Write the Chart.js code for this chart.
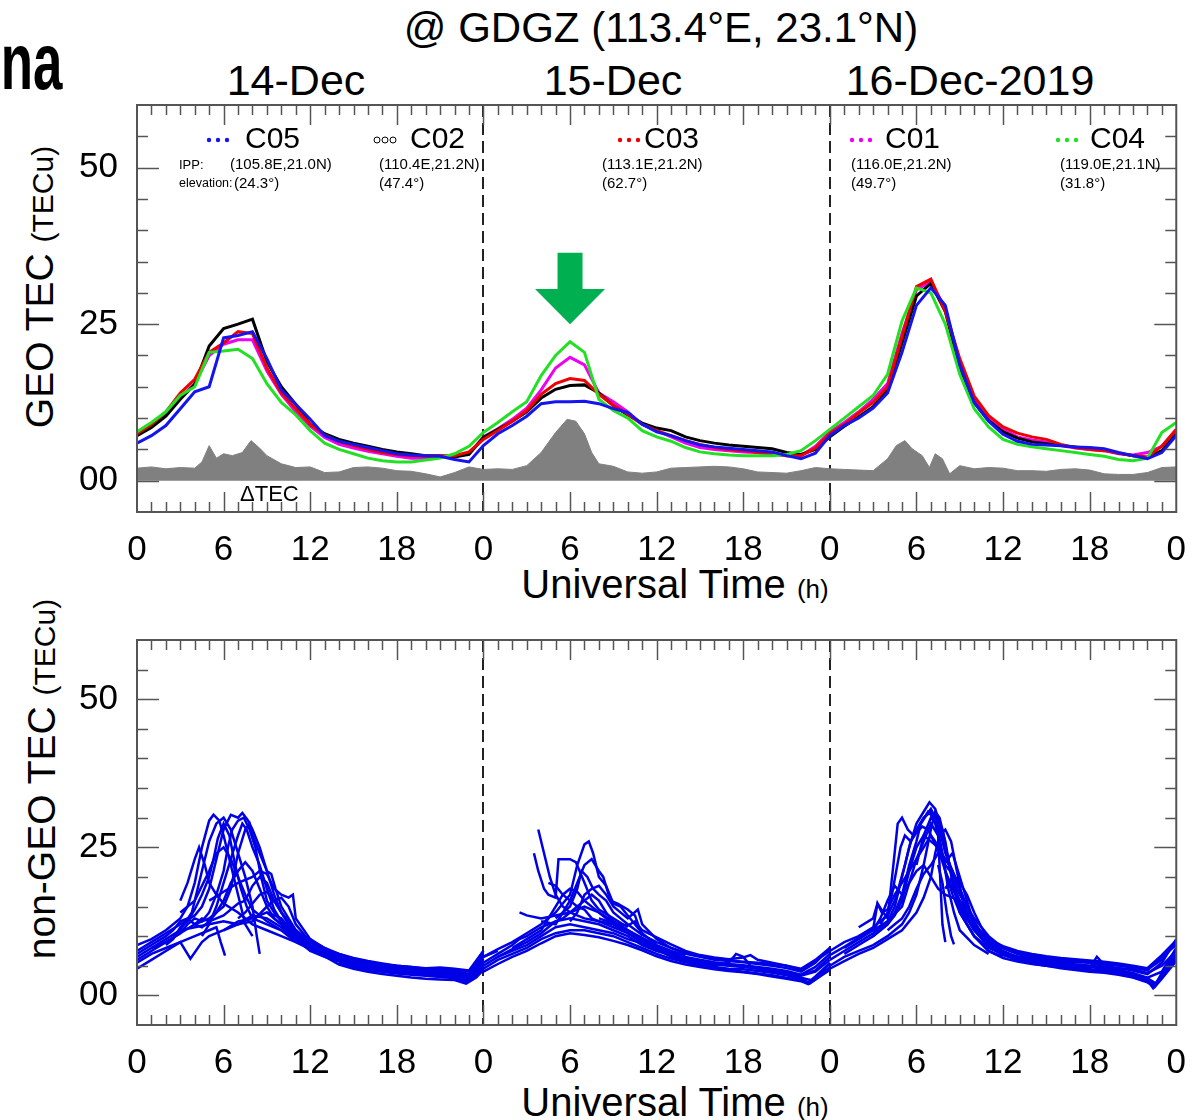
<!DOCTYPE html>
<html>
<head>
<meta charset="utf-8">
<script src="https://cdn.jsdelivr.net/npm/chart.js@4.4.1/dist/chart.umd.min.js"></script>
<style>
  html, body { margin: 0; padding: 0; background: #fff; }
  body { width: 1203px; height: 1120px; position: relative; overflow: hidden;
         font-family: "Liberation Sans", Arial, sans-serif; color: #000; }
  canvas { position: absolute; left: 0; }
  .t { position: absolute; white-space: nowrap; line-height: 1; }
  .c { transform: translateX(-50%); }
  .rot { transform: translate(-50%, -50%) rotate(-90deg); }
</style>
</head>
<body>
<div class="t" style="right:1141px;top:22px;font-weight:bold;font-size:80px;transform:scaleX(0.66);transform-origin:right center">na</div>
<div class="t c" style="left:661px;top:7px;font-size:42px">@ GDGZ (113.4°E, 23.1°N)</div>
<div class="t c" style="left:296px;top:59px;font-size:43px">14-Dec</div>
<div class="t c" style="left:613px;top:59px;font-size:43px">15-Dec</div>
<div class="t c" style="left:970px;top:59px;font-size:43px">16-Dec-2019</div>
<div class="t rot" style="left:39px;top:287px;font-size:39px">GEO TEC <span style="font-size:30px">(TECu)</span></div>
<div class="t rot" style="left:41px;top:779px;font-size:39px">non-GEO TEC <span style="font-size:30px">(TECu)</span></div>
<div class="t c" style="left:675px;top:564px;font-size:40px">Universal Time <span style="font-size:26px">(h)</span></div>
<div class="t c" style="left:675px;top:1082px;font-size:40px">Universal Time <span style="font-size:26px">(h)</span></div>

<canvas id="geo" width="1203" height="600" style="top:0"></canvas>
<canvas id="nongeo" width="1203" height="520" style="top:600px"></canvas>

<script>
// ─── DATA ─────────────────────────────────────────────────────────────────────
// hours since 00 UT on 14 Dec, one GEO sample per hour
const hours = Array.from({length: 73}, (_, i) => i);
const hourLabels = [0, 6, 12, 18, 24, 30, 36, 42, 48, 54, 60, 66, 72];
const tecLabels = [0, 25, 50];
const dayBreaks = [24, 48];

const geoSats  = ['C05', 'C02', 'C03', 'C01', 'C04'];
const geoIpp   = ['(105.8E,21.0N)', '(110.4E,21.2N)', '(113.1E,21.2N)', '(116.0E,21.2N)', '(119.0E,21.1N)'];
const geoElev  = ['(24.3°)', '(47.4°)', '(62.7°)', '(49.7°)', '(31.8°)'];

const tecC05 = [6.0,7.2,8.8,11.5,14.2,15.0,22.8,23.2,23.8,19.5, 14.5,12.2,9.8,7.2,6.3,5.8,5.3,4.8,4.3,4.1,
  4.0,3.9,3.4,3.0,5.6,7.5,8.8,10.3,12.3,12.6, 12.6,12.7,12.3,11.5,10.9,9.0,7.8,7.2,6.4,5.7,
  5.4,5.2,5.0,4.8,4.6,4.0,3.5,4.4,7.2,8.8, 10.0,11.6,14.0,20.5,28.0,30.8,28.0,18.5,12.5,9.5,
  7.4,6.3,5.8,5.7,5.6,5.4,5.3,5.1,4.5,4.0, 3.5,4.5,7.2];
const tecC02 = [7.2,8.5,10.3,13.0,15.4,21.5,24.3,25.0,25.8,19.0, 15.0,12.2,9.0,7.5,6.6,6.0,5.5,5.0,4.6,4.3,
  4.0,4.0,3.8,4.2,6.9,8.2,9.5,11.0,13.2,14.6, 15.2,15.3,14.0,12.0,10.5,9.2,8.4,8.0,7.0,6.4,
  6.0,5.7,5.5,5.3,5.1,4.5,4.2,5.0,7.0,8.7, 10.2,11.8,14.5,22.0,29.5,31.5,27.0,18.0,12.5,9.6,
  7.8,6.8,6.2,5.9,5.6,5.4,5.2,5.0,4.4,4.0, 3.7,4.8,7.4];
const tecC03 = [7.5,9.0,11.0,14.0,16.2,20.5,22.0,23.8,23.5,18.0, 14.0,11.5,9.0,7.3,6.2,5.6,5.0,4.5,4.2,4.0,
  3.9,4.0,4.0,4.6,6.6,8.0,9.5,11.2,13.8,15.5, 16.3,16.0,13.8,12.0,10.6,9.0,8.0,7.2,6.4,5.8,
  5.3,5.0,4.8,4.5,4.3,4.0,4.0,5.2,7.6,9.0, 10.8,12.5,15.0,23.0,31.0,32.2,27.0,19.5,13.5,10.4,
  8.6,7.6,7.0,6.6,5.8,5.3,5.0,4.8,4.4,4.0, 3.8,5.5,8.2];
const tecC01 = [7.3,8.8,10.5,13.3,15.5,20.0,21.8,22.5,22.5,17.5, 13.8,11.0,8.7,6.9,5.8,5.2,4.7,4.3,3.9,3.6,
  3.6,3.8,3.9,4.3,7.0,8.3,9.8,11.6,14.5,18.0, 19.7,18.5,14.0,12.6,11.0,9.0,8.0,7.0,6.0,5.3,
  5.0,4.8,4.6,4.5,4.3,4.0,4.0,5.5,7.8,9.3, 11.0,13.0,15.5,23.5,30.5,31.8,27.5,19.0,13.0,10.0,
  8.2,7.0,6.5,6.2,5.6,5.2,5.0,4.8,4.3,4.1, 4.5,5.5,8.0];
const tecC04 = [7.8,9.3,11.0,13.6,15.0,20.5,20.7,21.0,19.5,15.5, 12.5,10.5,8.0,6.0,5.0,4.3,3.6,3.2,3.0,3.0,
  3.3,3.6,4.3,5.5,7.7,9.3,11.0,12.6,16.8,20.0, 22.2,20.5,13.0,11.2,10.0,8.0,7.0,6.3,5.3,4.6,
  4.3,4.1,4.0,4.0,4.0,4.2,4.8,6.4,8.2,10.0, 11.8,13.6,17.0,25.5,30.8,30.0,25.0,17.0,11.5,8.6,
  6.6,5.8,5.4,5.1,4.8,4.5,4.2,3.9,3.4,3.2, 3.6,7.7,9.3];

// ΔTEC spread between the GEO links, [hour, TECu]
const deltaTec = [[0,2.0],[1,2.2],[2,1.9],[3,2.1],[4,2.0],[4.5,3.0],[5,5.6],[5.5,3.6],[6,4.3],[6.6,4.0],
  [7.3,4.5],[7.9,6.4],[8.5,5.2],[9,4.0],[10,2.7],[11,2.1],[12,2.2],[13,1.3],[14,1.4],[15,2.1],[16,2.2],
  [17,2.0],[18,1.6],[19,1.5],[20,1.1],[21,0.6],[22,1.3],[23,2.2],[24,1.8],[25,1.9],[26,1.8],[27,2.4],
  [28,4.5],[29,7.7],[29.8,9.8],[30.4,9.5],[31,7.5],[31.5,4.5],[32,2.7],[33,2.3],[34,1.4],[35,1.2],
  [36,1.4],[37,2.0],[38,2.1],[39,2.2],[40,2.3],[41,2.2],[42,1.9],[43,1.4],[44,1.3],[45,1.2],[46,1.6],
  [47,2.1],[48,1.9],[49,1.8],[50,1.7],[51,1.6],[52,3.5],[52.6,5.6],[53.2,6.4],[53.7,5.1],[54.4,4.0],
  [54.9,2.1],[55.3,4.3],[55.8,3.5],[56.3,1.1],[57,2.4],[58,1.9],[59,2.1],[60,2.0],[61,1.6],[62,1.6],
  [63,1.5],[64,1.8],[65,1.9],[66,1.7],[67,1.1],[68,1.0],[69,1.0],[70,1.3],[71,2.1],[72,2.2]];

// non-GEO satellite arcs, [hour, TECu]
const arcsDec14 = [
  [[0,8.5],[1,9.5],[2,11],[3,13],[3.5,15],[4,19],[4.5,25],[5,29.5],[5.3,30.5],[5.7,29.5],[6,27],[6.5,22],[7,17],[7.5,12],[8,10]],
  [[0,7.5],[1,9],[2,10.5],[3,12],[4,13.5],[4.5,15],[5,18],[5.5,23],[6,28],[6.5,30.5],[7,30],[7.3,30.8],[7.7,29.5],[8,28],[8.5,25],[9,21],[9.5,17],[10,14],[11,10.5],[12,8.5],[13,7],[14,6]],
  [[0,6.5],[1,8],[2,9.5],[3,11],[4,11.5],[5,12],[6,12.5],[7,12],[8,13.5],[9,13],[10,11.5],[11,9.5],[12,7.5],[13,6.5],[14,5.7],[15,5],[16,4.5],[17,4.2],[18,3.9],[19,3.7],[20,3.5],[21,3.4],[22,3.2],[22.7,2.2],[23.3,3.2],[24,5.5]],
  [[0,5.5],[1,7],[2,8],[3,9],[3.7,6.2],[4.5,9],[5,10],[6,11],[7,12.5],[8,13],[9,14],[10,13],[11,10],[12,8],[13,7],[14,6.2],[15,5.6],[16,5],[17,4.6],[18,4.4],[19,4.2],[20,4],[21,3.9],[22,3.6],[23,3],[24,6]],
  [[0,4.5],[1,6],[2,7.5],[3,9],[4,10],[5,11],[5.5,11.5],[5.8,9],[6.1,6.7]],
  [[3,16],[3.5,19],[4,23],[4.3,25],[4.7,22],[5,19],[5.5,17],[6,15.5],[7,14],[8,12],[9,11],[10,10],[11,9]],
  [[2.5,10],[3,11],[3.8,14],[4.5,21],[5,26],[5.5,29],[6,30],[6.5,28],[7,24],[7.5,20],[8,15],[8.3,10],[8.5,7]],
  [[4,12],[5,13],[6,15],[6.5,18],[7,24],[7.5,28],[7.8,29],[8,27],[8.5,24],[9,21],[9.3,20.5],[9.6,18],[10,15],[11,11],[12,8.5],[13,7],[14,6],[15,5.3],[16,4.8],[17,4.5],[18,4.2],[19,4],[20,3.8],[21,3.6],[22,3.3],[23,2.8],[24,4.8]],
  [[5,16],[6,17.5],[7,19],[8,20],[8.5,21],[9,20.5],[9.5,18],[10,17],[10.5,16.5],[10.8,17],[11,13],[12,9.5],[13,7.5],[14,6.5]],
  [[6,11],[7,12],[8,12.5],[9,15],[9.5,16],[10,16.5],[10.5,15],[11,12],[12,9],[13,7.5],[14,6.4],[15,5.6],[16,5],[17,4.6],[18,4.3],[19,4],[20,3.7],[21,3.6],[22,3.4],[23,3],[24,6.5],[25,7.5]],
  [[9,14],[10,12],[11,9.5],[12,8],[13,7],[14,6],[15,5.2],[16,4.8],[17,4.6],[18,4.5],[19,4.4],[20,4.3],[21,4.2],[22,4],[23,3.5],[24,7]],
  [[10,12.5],[11,10],[12,8],[13,6.6],[14,5.2],[15,4.5],[16,4],[17,3.6],[18,3.3],[19,3],[20,2.8],[21,2.7],[22,2.6],[22.8,2],[23.5,3],[24,4.3]],
  [[3,14],[4,16],[5,21],[5.5,24],[6,25],[6.5,23],[7,20],[7.5,17],[8,14.5],[9,12.5],[10,11],[11,9.5],[12,8],[13,6.8],[14,6]],
  [[1,8],[2,9],[3,10.5],[4,12],[4.5,13],[5,12.5],[6,13.5],[7,15.5],[7.5,16],[8,18.5],[8.5,20],[9,19],[9.5,16],[10,14],[11,11],[12,9],[13,7.5],[14,6.8],[15,6],[16,5.4],[17,5],[18,4.8],[19,4.6],[20,4.4],[21,4.5],[22,4.4],[23,4],[24,7.5]],
  [[12,9.5],[13,8],[14,7],[15,6.2],[16,5.6],[17,5.2],[18,5],[19,4.8],[20,4.6],[21,4.7],[22,4.5],[23,4.2],[24,7.5]],
  [[0,6],[1,7.5],[2,9],[3,10.5],[3.5,12],[4,13],[4.5,12.5],[5,14],[5.5,17],[6,21],[6.3,25],[6.6,28],[7,29.5],[7.4,30],[7.8,28],[8.2,25],[8.6,20],[9,16],[9.5,14],[10,12.5],[11,10],[12,8.2],[13,7.2],[14,6.3],[15,5.5],[16,5],[17,4.6],[18,4.3],[19,4.1],[20,3.9],[21,3.7],[22,3.5],[23,3.2],[24,5]],
  [[0,7],[1,8.5],[2,10],[2.5,11],[3,12.5],[3.5,13],[4,12],[4.5,11.5],[5,12.5],[5.5,14],[6,16],[6.5,19],[7,21],[7.5,22.5],[8,21],[8.5,18],[9,15],[9.5,13],[10,12],[10.5,11.5],[11,10.5],[12,9],[13,7.8],[14,7],[15,6.3],[16,5.8],[17,5.4],[18,5],[19,4.8],[20,4.5],[21,4.3],[22,4.1],[23,3.6],[24,6.2]],
  [[4.5,10],[5,12],[5.5,15],[6,19],[6.5,23],[7,27],[7.3,29],[7.6,28],[8,25],[8.5,22],[9,18],[9.5,14.5],[10,12.5],[11,10],[12,8.5]],
  [[2,8.5],[2.5,9.5],[3,11.5],[3.5,12.5],[4,14.5],[4.5,17],[5,20],[5.3,23],[5.6,26.5],[6,29],[6.4,27],[6.8,22],[7.2,18],[7.6,15],[8,13],[9,12],[10,11],[11,9],[12,7.8],[13,6.8],[14,6],[15,5.4],[16,4.9],[17,4.5],[18,4.1],[19,3.8],[20,3.6],[21,3.3],[22,3],[22.6,2.3],[23.2,2.8],[24,4.5]],
  [[7,13],[7.5,14],[8,15.5],[8.5,17],[9,17.5],[9.5,16],[10,14],[10.5,12],[11,11],[11.5,10],[12,9.3],[13,8],[14,6.8],[15,6],[16,5.5],[17,5],[18,4.7],[19,4.5],[20,4.2],[21,4],[22,3.8],[23,3.3],[24,5.8]],
  [[14,5.5],[15,4.8],[16,4.3],[17,4],[18,3.7],[19,3.5],[20,3.3],[21,3.1],[22,2.9],[23,2.5],[23.6,3.5],[24,5]]
];
const arcsDec15 = [
  [[24,4.5],[25,6],[26,7],[27,8],[28,9.5],[29,10.5],[30,11],[31,11],[32,10.5],[33,10],[34,9],[35,8],[36,7],[37,6.2],[38,5.6],[39,5],[40,4.6],[41,4.3],[42,4],[43,3.7],[44,3.4],[45,3],[46,2.6],[46.6,2],[47.2,3],[48,4.8]],
  [[24,5.5],[25,7],[26,8.5],[26.5,9.5],[27,10],[28,11.5],[29,12.5],[30,13],[31,12.5],[32,12],[33,11],[34,10],[35,8.5],[36,7.5],[37,6.8],[38,6.2],[39,5.6],[40,5.2],[41,5],[42,4.8],[43,4.5],[44,4.2],[45,3.8],[46,3.3],[47,4],[48,6]],
  [[24,6.5],[25,7.8],[26,9],[27,10.5],[28,12],[29,14],[29.5,15.5],[30,17],[30.5,22],[31,25.5],[31.3,26],[31.6,24],[32,20],[32.5,18.5],[33,15.5],[33.5,15],[34,13.5],[35,10.5],[36,8.5],[37,7.5],[38,6.8]],
  [[26.5,14],[27,13.5],[28,13],[29,13.5],[30,14],[31,15],[32,14],[33,12],[34,10.5],[35,9],[36,8]],
  [[27.8,28],[28.2,24],[28.6,20],[29,17],[29.5,15],[30,14],[31,13],[32,12.5],[33,12],[34,11],[35,9.5],[36,8.2],[37,7.3],[38,6.5],[39,6],[40,5.6],[41,5.3],[42,5.1],[43,4.8],[44,4.5],[45,4.1],[46,3.5],[47,4.8],[48,7]],
  [[27.5,24],[27.8,21],[28.2,18],[28.5,17],[29,16.5],[29.2,23],[29.6,23],[30,23],[30.4,22.5],[31,19],[31.5,16],[32,14.5],[33,13],[34,11.5]],
  [[28,12.5],[29,12],[30,16],[30.5,19],[31,22],[31.5,23],[32,21],[32.3,20],[32.8,16],[33.3,15.5],[34,14.5],[34.5,13.5],[35,10]],
  [[26,8],[27,9.5],[28,11],[28.5,13],[29,15],[29.5,17],[30,18],[30.5,17.5],[31,16],[32,14],[33,12.5],[34,11],[35,9.5],[36,8],[37,7],[38,6],[39,5.3],[40,5],[41,5.5],[41.5,7],[42,6.5],[42.5,5],[43,4.3],[44,4],[45,3.6],[46,3],[46.8,2.5],[47.5,4],[48,5.5]],
  [[25,6.5],[26,7.5],[27,8.5],[28,10],[29,11.5],[30,12],[31,11.5],[32,11],[33,10.5],[34,9.5],[35,8.8],[36,7.8],[37,6.5],[38,5.8],[39,5.2],[40,4.8],[41,4.5],[42,4.4],[43,4.1],[44,3.8],[45,3.4],[46,2.8],[46.5,2.2],[47,3.2],[48,5.5]],
  [[30,12.5],[30.5,14],[31,17],[31.5,18],[32,18.5],[32.5,17],[33,15],[34,13],[34.7,14.5],[35,12],[36,9.5],[37,8],[38,7],[39,6.5],[40,6],[41,5.8],[42,5.6],[43,5.3],[44,5],[45,4.6],[46,4],[47,5.5],[48,8]],
  [[24,5],[25,6.5],[26,7.8],[27,9],[28,10.5],[28.5,11.5],[29,12.5],[29.5,13],[30,14],[30.5,15],[31,14.5],[31.5,13],[32,12.5],[33,11.5],[34,10.5],[35,9],[36,7.8],[37,7],[38,6.3],[39,5.8],[40,5.4],[41,5.1],[42,4.9],[43,4.6],[44,4.3],[45,3.9],[46,3.4],[47,4.2],[48,6.5]],
  [[28.5,19],[29,18.5],[29.5,17],[30,16],[30.5,15],[31,16],[31.5,17],[32,16],[32.5,14],[33,12.5],[34,11],[35,9.7],[36,8.5]],
  [[29,13],[29.5,14],[30,15],[30.5,18],[30.8,21],[31.2,20],[31.6,18],[32,17],[32.5,16],[33,14],[33.5,13],[34,12],[35,10.2],[36,9],[37,8],[38,7.2],[39,6.6],[40,6.2],[41,5.9],[42,5.7],[43,5.5],[44,5.3],[45,5],[46,4.3],[47,5.8],[48,7.5]],
  [[24,4],[25,5.3],[26,6.5],[27,7.5],[28,8.8],[29,10],[30,10.5],[31,10.2],[32,9.8],[33,9.2],[34,8.5],[35,7.6],[36,6.6],[37,5.8],[38,5.2],[39,4.8],[40,4.4],[41,4.1],[42,3.9],[43,3.6],[44,3.2],[45,2.8],[46,2.4],[46.5,1.9],[47,2.7],[48,4.3]],
  [[32,13],[33,12.2],[34,11.8],[34.5,12.5],[35,11],[36,9.8],[37,8.6],[38,7.5],[39,6.8],[40,6.4],[41,6.1],[42,6.4],[42.5,6.8],[43,6],[44,5.5],[45,5],[46,4.5],[47,6],[48,8]]
];
const arcsDec16 = [
  [[48,5],[49,6.5],[50,7.5],[51,8.5],[52,10],[53,12],[53.5,14],[54,17],[54.5,22],[55,28],[55.3,31],[55.6,30],[56,26],[56.5,19],[57,14],[58,10],[59,7.5],[60,6.3],[61,5.7],[62,5.3],[63,5],[64,4.8],[65,4.6],[66,4.4],[67,4.2],[68,3.8],[69,3.3],[70,2.5],[70.4,1.2],[71,3],[72,6]],
  [[48,6],[49,7.5],[50,9],[51,10.5],[52,12.5],[52.5,15],[53,20],[53.5,25],[54,29],[54.5,31],[54.9,32.6],[55.3,31.5],[55.6,29],[56,25],[56.5,20],[57,15],[58,11],[59,8.5],[60,7],[61,6],[62,5.6],[63,5.3],[64,5],[65,4.8],[66,4.6],[66.5,6.5],[67,5.2],[68,4.3],[69,3.8],[70,3],[71,4],[72,8]],
  [[50,11.5],[51,13],[51.3,15.5],[51.7,14],[52,13],[52.4,22],[52.7,29],[53,30],[53.4,28],[53.8,27],[54.3,29],[54.8,31],[55.2,30],[55.6,26],[56,21],[56.5,17],[57,14],[58,10],[59,7.5],[60,6.5]],
  [[49,8],[50,9.5],[51,11],[52,12.5],[53,15],[53.5,19],[54,23],[54.5,26],[55,29],[55.5,27],[55.8,12],[56,9]],
  [[51,10],[52,12],[52.5,13.5],[53,16],[53.5,21],[54,25],[54.5,27],[55,26],[55.5,25],[56,23],[56.5,21],[57,18],[57.5,15],[58,12],[59,9],[60,7.5],[61,6.5],[62,6],[63,5.7],[64,5.5],[65,5.2],[66,5],[67,4.6],[68,4.2],[69,3.6],[70,2.8],[70.5,1.8],[71,3.5],[72,7]],
  [[52,11],[52.5,12],[53,13],[53.5,15],[54,18],[54.5,20.5],[55,22],[55.5,24],[56,22.5],[56.5,24],[57,20],[57.5,16],[58,12],[59,9],[60,7],[61,6],[62,5.4],[63,5],[64,4.6],[65,4.3],[66,4],[67,3.8],[68,3.5],[69,3],[70,2.2],[70.5,1.5],[71,3.2],[72,6.5]],
  [[50,10],[51,11.5],[52,13.5],[52.5,16],[52.8,18.5],[53.2,22],[53.6,26],[54,28],[54.5,30],[55,31],[55.4,30],[55.8,28],[56.2,23],[56.6,18],[57,15],[57.5,12],[58,10],[58.5,9],[59,8],[60,7],[61,6.6],[62,6.3],[63,6],[64,5.8],[65,5.6],[66,5.5],[67,5],[68,4.6],[69,4.2],[70,3.6],[71,5.5],[72,9.5]],
  [[48,7.5],[49,9],[50,10],[51,11],[51.5,13],[52,16],[52.5,18.5],[53,17],[53.5,19],[54,21],[54.5,22],[55,20],[55.5,18],[56,17],[56.5,16.5],[57,16],[57.5,14],[58,12.5],[58.5,10.5],[59,9],[60,8],[61,7],[62,6.5],[63,6.2],[64,6],[65,5.8],[66,5.6],[67,5.3],[68,5],[69,4.7],[70,4.2],[71,6.5],[72,8.5]],
  [[54,22],[54.5,27],[55,30],[55.4,29],[55.8,24],[56.2,18],[56.6,14],[57,11],[58,8.5],[59,7]],
  [[56,18],[56.5,20],[57,17],[58,13],[59,10],[60,8],[61,7],[62,6.5],[63,6],[64,5.5],[65,5.2],[66,5],[67,4.8],[68,4.6],[69,4.4],[70,3.8],[71,5],[72,7.5]],
  [[48,4.5],[49,5.8],[50,7],[51,8],[52,9.5],[53,11],[53.5,12.5],[54,14],[54.5,16.5],[55,20],[55.3,24],[55.6,27],[56,28],[56.4,26],[56.8,21],[57.2,16],[57.6,13],[58,11],[59,8.2],[60,6.8],[61,6],[62,5.5],[63,5.1],[64,4.8],[65,4.5],[66,4.3],[67,4],[68,3.6],[69,3.1],[70,2.4],[70.5,1.4],[71,2.8],[72,5.8]],
  [[49,7],[50,8.5],[51,10],[52,12],[52.5,14],[53,17],[53.5,22],[54,26],[54.3,29],[54.7,30.5],[55,31.5],[55.3,30],[55.7,27],[56,24],[56.5,21],[57,18],[57.5,15],[58,12],[59,9.5],[60,8],[61,7.2],[62,6.7],[63,6.3],[64,6],[65,5.8],[66,5.6],[67,5.4],[68,5.2],[69,4.9],[70,4.4],[71,6],[72,9]],
  [[51.5,12],[52,14],[52.3,17],[52.6,21],[52.9,25],[53.2,27],[53.6,26],[54,27.5],[54.4,28.5],[54.8,28],[55.2,26],[55.6,24],[56,21],[56.5,18],[57,15.5],[57.5,13],[58,11]],
  [[55.5,22],[55.8,19],[56.1,14],[56.4,10],[56.6,8.6]],
  [[56.5,19],[57,16],[57.5,13.5],[58,11.5],[59,8.8],[60,7.3],[61,6.4],[62,5.9],[63,5.5],[64,5.2],[65,5],[66,4.8],[67,4.5],[68,4],[69,3.5],[70,2.9],[70.6,2],[71,3.8],[72,7.8]],
  [[48,6.8],[49,8.2],[50,9.7],[51,11.2],[51.3,15.5],[51.6,14],[52,14.5],[52.5,17],[53,19],[53.5,21],[54,23],[54.5,25],[55,27],[55.3,26],[55.6,24],[56,22],[56.5,20.5],[57,19],[57.5,17],[58,14],[58.5,11.5],[59,9.5],[60,8.3],[61,7.5],[62,7],[63,6.6],[64,6.3],[65,6.1],[66,5.9],[67,5.7],[68,5.4],[69,5],[70,4.6],[71,6.8],[72,9.3]]
];

// ─── STYLE ────────────────────────────────────────────────────────────────────
const FONT = '"Liberation Sans", Arial, sans-serif';
const geoColors = ['#1414f0', '#000000', '#ee0000', '#f000f0', '#22e022'];
const geoSeries = [tecC05, tecC02, tecC03, tecC01, tecC04];
const arcColor = '#0000e6';
const frameColor = '#555';

const toPts = pairs => pairs.map(([x, y]) => ({x, y}));

function scalesFor(xAxisHeight) {
  const tickFont = { family: FONT, size: 35 };
  return {
    x: {
      type: 'linear', min: 0, max: 72,
      grid: { display: false, drawTicks: false }, border: { display: false },
      afterBuildTicks: s => { s.ticks = hourLabels.map(v => ({ value: v })); },
      afterFit: s => { s.height = xAxisHeight; },
      ticks: { font: tickFont, color: '#000', padding: 17, maxRotation: 0, autoSkip: false, callback: v => v % 24 }
    },
    y: {
      type: 'linear', min: -5, max: 60,
      grid: { display: false, drawTicks: false }, border: { display: false },
      afterBuildTicks: s => { s.ticks = tecLabels.map(v => ({ value: v })); },
      afterFit: s => { s.width = 137; },
      ticks: { font: tickFont, color: '#000', padding: 19, autoSkip: false, callback: v => v === 0 ? '00' : v }
    }
  };
}

// day separators under the curves, box and inward ticks on top
const frame = {
  id: 'frame',
  beforeDatasetsDraw(chart) {
    const { ctx, chartArea: a, scales: { x } } = chart;
    ctx.save();
    ctx.strokeStyle = '#222'; ctx.lineWidth = 2; ctx.setLineDash([12, 6]);
    dayBreaks.forEach(h => {
      const px = Math.round(x.getPixelForValue(h));
      ctx.beginPath(); ctx.moveTo(px, a.top); ctx.lineTo(px, a.bottom); ctx.stroke();
    });
    ctx.restore();
  },
  afterDatasetsDraw(chart) {
    const { ctx, chartArea: a, scales: { x, y } } = chart;
    const seg = (x1, y1, x2, y2) => { ctx.beginPath(); ctx.moveTo(x1, y1); ctx.lineTo(x2, y2); ctx.stroke(); };
    ctx.save();
    ctx.strokeStyle = frameColor; ctx.lineWidth = 1.5;
    for (let h = 1; h < 72; h++) {
      const px = Math.round(x.getPixelForValue(h)) + 0.5, len = h % 6 ? 10 : 20;
      seg(px, a.bottom, px, a.bottom - len);
      seg(px, a.top, px, a.top + len);
    }
    for (let v = 0; v < 60; v += 5) {
      const py = Math.round(y.getPixelForValue(v)) + 0.5, len = v % 25 ? 11 : 22;
      seg(a.left, py, a.left + len, py);
      seg(a.right, py, a.right - len, py);
    }
    ctx.lineWidth = 2;
    ctx.strokeRect(a.left, a.top, a.width, a.height);
    ctx.restore();
  }
};

// satellite key, ΔTEC tag and the arrow over the 15-Dec enhancement
const geoNotes = {
  id: 'geoNotes',
  afterDatasetsDraw(chart) {
    const { ctx, scales: { x, y } } = chart;
    const markX = [207, 374, 618, 850, 1056], nameX = [245, 410, 644, 885, 1090], infoX = [230, 379, 602, 851, 1060];
    ctx.save();
    ctx.textBaseline = 'middle';
    geoSats.forEach((sat, i) => {
      for (let k = 0; k < 3; k++) {
        ctx.beginPath();
        if (sat === 'C02') {
          ctx.arc(markX[i] + 3 + k * 8, 140, 3, 0, Math.PI * 2);
          ctx.strokeStyle = '#000'; ctx.lineWidth = 1; ctx.stroke();
        } else {
          ctx.arc(markX[i] + 2 + k * 9, 140, 2.2, 0, Math.PI * 2);
          ctx.fillStyle = geoColors[i]; ctx.fill();
        }
      }
      ctx.fillStyle = '#000';
      ctx.font = `30px ${FONT}`;
      ctx.fillText(sat, nameX[i], 140);
      ctx.font = `15px ${FONT}`;
      ctx.fillText(geoIpp[i], infoX[i], 165);
      ctx.fillText(geoElev[i], i === 0 ? 234 : infoX[i], 184);
    });
    ctx.font = `13px ${FONT}`;
    ctx.fillText('IPP:', 179, 165);
    ctx.font = `12.5px ${FONT}`;
    ctx.fillText('elevation:', 179, 184);

    ctx.font = `22px ${FONT}`;
    ctx.fillText('\u0394TEC', 240, 495);

    const cx = x.getPixelForValue(30), tip = y.getPixelForValue(25), base = y.getPixelForValue(30.6), top = y.getPixelForValue(36.4);
    ctx.fillStyle = '#00b050';
    ctx.beginPath();
    ctx.moveTo(cx - 12.5, top); ctx.lineTo(cx + 12.5, top); ctx.lineTo(cx + 12.5, base);
    ctx.lineTo(cx + 35, base); ctx.lineTo(cx, tip); ctx.lineTo(cx - 35, base); ctx.lineTo(cx - 12.5, base);
    ctx.closePath(); ctx.fill();
    ctx.restore();
  }
};

// ─── CHARTS ───────────────────────────────────────────────────────────────────
Chart.defaults.font.family = FONT;

// drawn last-to-first: grey ΔTEC at the back, C05 on top
const drawOrder = [0, 4, 2, 1, 3];
const geoSets = drawOrder.map(i => ({
  label: geoSats[i],
  data: hours.map((h, k) => ({ x: h, y: geoSeries[i][k] })),
  borderColor: geoColors[i], borderWidth: 3, pointRadius: 0, tension: 0, fill: false
}));
geoSets.push({
  label: 'ΔTEC', data: toPts(deltaTec),
  borderColor: '#808080', borderWidth: 1, backgroundColor: '#808080', pointRadius: 0, tension: 0, fill: 'origin'
});

new Chart(document.getElementById('geo'), {
  type: 'line',
  data: { datasets: geoSets },
  options: {
    responsive: false, animation: false, devicePixelRatio: 1,
    layout: { padding: { top: 105, right: 13, left: 0, bottom: 0 } },
    plugins: { legend: { display: false }, tooltip: { enabled: false } },
    scales: scalesFor(88)
  },
  plugins: [frame, geoNotes]
});

const arcSets = [...arcsDec14, ...arcsDec15, ...arcsDec16].map(arc => ({
  data: toPts(arc), borderColor: arcColor, borderWidth: 2.5, pointRadius: 0, tension: 0, fill: false
}));

new Chart(document.getElementById('nongeo'), {
  type: 'line',
  data: { datasets: arcSets },
  options: {
    responsive: false, animation: false, devicePixelRatio: 1,
    layout: { padding: { top: 20, right: 13, left: 0, bottom: 0 } },
    plugins: { legend: { display: false }, tooltip: { enabled: false } },
    scales: scalesFor(95)
  },
  plugins: [frame]
});
</script>
</body>
</html>
